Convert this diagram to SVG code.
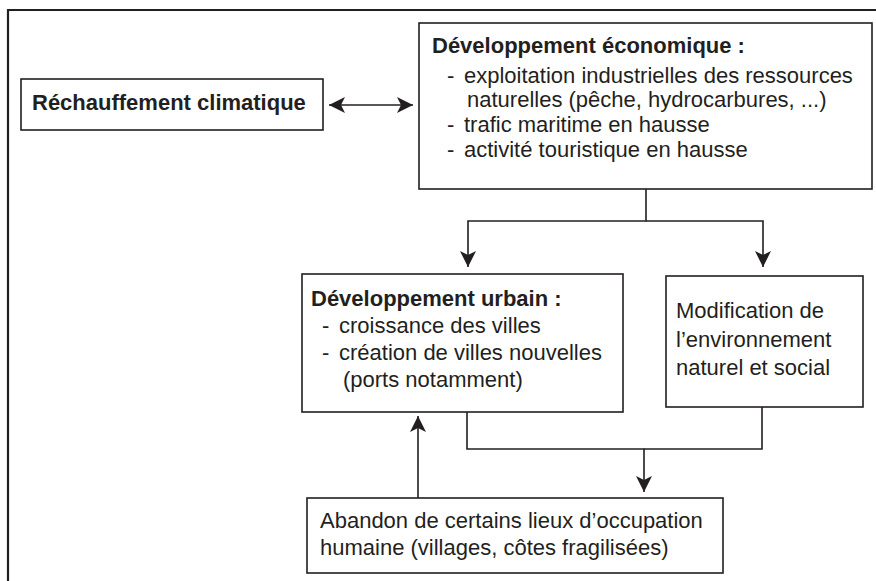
<svg xmlns="http://www.w3.org/2000/svg" width="876" height="581" viewBox="0 0 876 581">
<style>
.box{fill:#fff;stroke:#231f20;stroke-width:1.6}
.frame{fill:none;stroke:#231f20;stroke-width:2.2}
.con{fill:none;stroke:#231f20;stroke-width:1.6}
text{font-family:"Liberation Sans",Arial,sans-serif;font-size:22px;fill:#231f20}
.b{font-weight:bold}
</style>
<defs>
<marker id="ah" markerUnits="userSpaceOnUse" markerWidth="17" markerHeight="17" viewBox="0 0 17 17" refX="16" refY="8.5" orient="auto-start-reverse">
<path d="M16,8.5 L0,0.5 L4,8.5 L0,16.5 Z" fill="#231f20"/>
</marker>
</defs>
<rect width="876" height="581" fill="#fff"/>
<path class="frame" d="M8,581 V10 H876"/>
<g id="connectors">
<path class="con" d="M329,105 H413" marker-start="url(#ah)" marker-end="url(#ah)"/>
<path class="con" d="M646,189 V221 H468 V267" marker-end="url(#ah)"/>
<path class="con" d="M646,221 H763 V267" marker-end="url(#ah)"/>
<path class="con" d="M467,412 V449 H644 V492" marker-end="url(#ah)"/>
<path class="con" d="M762,407 V449 H644"/>
<path class="con" d="M418,498 V416" marker-end="url(#ah)"/>
</g>
<g id="rechauffement">
<rect class="box" x="21" y="79" width="302" height="51"/>
<text class="b" x="32" y="110">Réchauffement climatique</text>
</g>
<g id="developpement-economique">
<rect class="box" x="419" y="23" width="453" height="166"/>
<text class="b" x="432" y="53">Développement économique :</text>
<text><tspan x="447" y="82.5">-</tspan><tspan x="464" y="82.5">exploitation industrielles des ressources</tspan></text>
<text x="467" y="107">naturelles (pêche, hydrocarbures, ...)</text>
<text><tspan x="447" y="132">-</tspan><tspan x="464" y="132">trafic maritime en hausse</tspan></text>
<text><tspan x="447" y="157">-</tspan><tspan x="464" y="157">activité touristique en hausse</tspan></text>
</g>
<g id="developpement-urbain">
<rect class="box" x="302" y="274" width="321" height="138"/>
<text class="b" x="311" y="305.5">Développement urbain :</text>
<text><tspan x="322" y="333">-</tspan><tspan x="339" y="333">croissance des villes</tspan></text>
<text><tspan x="322" y="360">-</tspan><tspan x="339" y="360">création de villes nouvelles</tspan></text>
<text x="343" y="387">(ports notamment)</text>
</g>
<g id="modification">
<rect class="box" x="666" y="276" width="197" height="131"/>
<text x="676" y="318">Modification de</text>
<text x="676" y="346.5">l’environnement</text>
<text x="676" y="375">naturel et social</text>
</g>
<g id="abandon">
<rect class="box" x="307" y="498" width="416" height="75"/>
<text x="320" y="528">Abandon de certains lieux d’occupation</text>
<text x="320" y="555">humaine (villages, côtes fragilisées)</text>
</g>
</svg>
